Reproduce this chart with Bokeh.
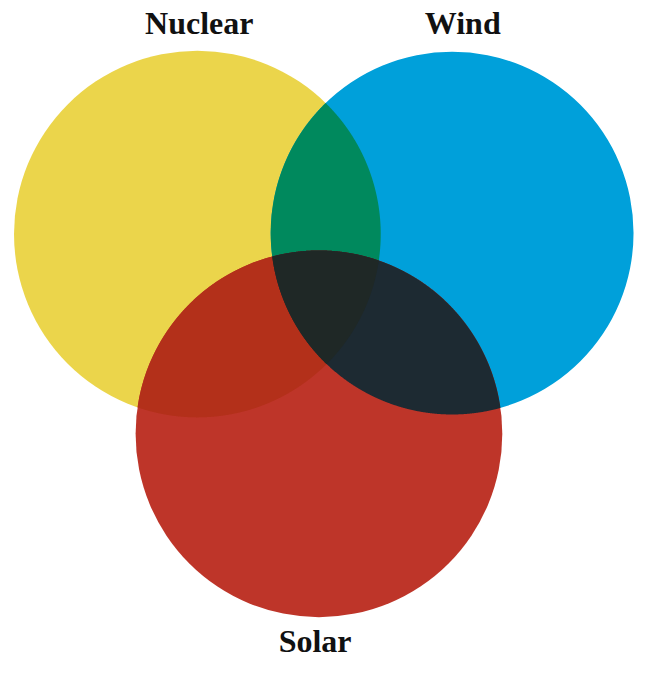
import numpy as np
from bokeh.plotting import figure
from bokeh.models import Range1d, ColumnDataSource
from bokeh.core.properties import value
from bokeh.embed import file_html
from bokeh.resources import INLINE

# --- data (reference-pixel coordinates, y grows downward) ---
names = ["Nuclear", "Wind", "Solar"]
center_x = [200, 464, 326]
center_y = [248, 247, 455]
radius = [190, 188, 190]
colors = ["#EBD54B", "#00A0DA", "#BE3529"]

# overlap colours
pair_sets = [(0, 1), (0, 2), (1, 2)]
pair_colors = ["#00895D", "#B3301A", "#1D2A32"]
triple_set = (0, 1, 2)
triple_color = "#1F2826"

label_x = [202, 475, 322]
label_y = [29, 29, 670]

W, H = 636, 668
S = 0.965
p = figure(width=W, height=H, output_backend="svg", toolbar_location=None,
           x_range=Range1d(-4, -4 + W / S), y_range=Range1d(6 + H / S, 6),
           min_border=0)
p.axis.visible = False
p.grid.visible = False
p.outline_line_color = None
p.background_fill_color = "white"
p.border_fill_color = "white"

p.circle(x=center_x, y=center_y, radius=radius, fill_color=colors,
         line_color=None)


def region(idx):
    xs_all, ys_all = [], []
    th = np.linspace(0, 2 * np.pi, 3000, endpoint=False)
    for i in idx:
        px = center_x[i] + radius[i] * np.cos(th)
        py = center_y[i] + radius[i] * np.sin(th)
        m = np.ones_like(px, dtype=bool)
        for j in idx:
            if j == i:
                continue
            m &= (px - center_x[j]) ** 2 + (py - center_y[j]) ** 2 <= radius[j] ** 2 + 1e-6
        xs_all.append(px[m])
        ys_all.append(py[m])
    xs = np.concatenate(xs_all)
    ys = np.concatenate(ys_all)
    mx, my = xs.mean(), ys.mean()
    order = np.argsort(np.arctan2(ys - my, xs - mx))
    return list(xs[order]), list(ys[order])


pxs, pys = [], []
for s in pair_sets:
    a, b = region(s)
    pxs.append(a)
    pys.append(b)
p.patches(xs=pxs, ys=pys, fill_color=pair_colors, line_color=None)

tx, ty = region(triple_set)
p.patch(x=tx, y=ty, fill_color=triple_color, line_color=None)

src = ColumnDataSource(dict(x=label_x, y=label_y, t=names))
p.text(x="x", y="y", text="t", source=src, text_font=value("Liberation Serif"),
       text_font_style="bold", text_font_size="32px", text_align="center",
       text_baseline="alphabetic", text_color="#111111")

open("out.html", "w").write(file_html(p, INLINE))
